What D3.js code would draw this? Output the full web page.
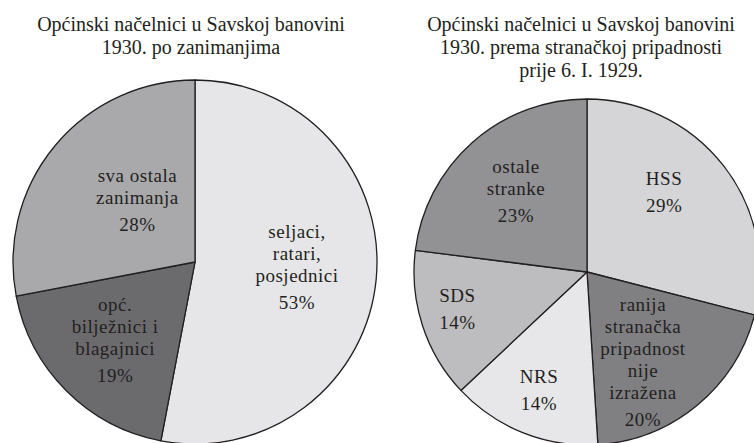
<!DOCTYPE html>
<html>
<head>
<meta charset="utf-8">
<script src="https://cdn.jsdelivr.net/npm/d3@7"></script>
<style>
  body { margin: 0; background: #fff; }
  svg { display: block; }
</style>
</head>
<body>
<svg id="chart" width="754" height="443"></svg>
<script>
// chart 1: by occupation
var occLabels = [["seljaci,", "ratari,", "posjednici"], ["opć.", "bilježnici i", "blagajnici"], ["sva ostala", "zanimanja"]];
var occValues = [53, 19, 28];
var occColors = ["#e6e6e8", "#6b6b6e", "#a9a9ab"];
var occTitle = ["Općinski načelnici u Savskoj banovini", "1930. po zanimanjima"];

// chart 2: by party before 6 Jan 1929
var partyLabels = [["HSS"], ["ranija", "stranačka", "pripadnost", "nije", "izražena"], ["NRS"], ["SDS"], ["ostale", "stranke"]];
var partyValues = [29, 20, 14, 14, 23];
var partyColors = ["#d5d5d7", "#808083", "#e7e7e9", "#bdbdbf", "#929295"];
var partyTitle = ["Općinski načelnici u Savskoj banovini", "1930. prema stranačkoj pripadnosti", "prije 6. I. 1929."];

var FONT = "Liberation Serif";
var svg = d3.select('#chart');

function drawPie(cfg) {
    var g = svg.append('g').attr('transform', 'translate(' + cfg.cx + ',' + cfg.cy + ')');

    var pie = d3.pie().sort(null).value(function (d) { return d; });
    var arcs = pie(cfg.values);
    var arc = d3.arc().innerRadius(0).outerRadius(cfg.r);

    g.selectAll('path').data(arcs).enter().append('path')
        .attr('d', arc)
        .attr('fill', function (d, i) { return cfg.colors[i]; })
        .attr('stroke', '#231f20')
        .attr('stroke-width', 1.3)
        .attr('stroke-linejoin', 'round');

    var lineH = 22, pctGap = 27;
    arcs.forEach(function (a, i) {
        // label sits along the slice's mid angle, nudged a little like the original
        var mid = (a.startAngle + a.endAngle) / 2 + cfg.labelDA[i] * Math.PI / 180;
        var c = d3.pointRadial(mid, cfg.r * cfg.labelK[i]);
        var lines = cfg.labels[i];
        var blockH = (lines.length - 1) * lineH + pctGap;
        var y0 = c[1] - blockH / 2;
        var t = g.append('text')
            .attr('text-anchor', 'middle')
            .attr('font-family', FONT)
            .attr('font-size', 19)
            .attr('letter-spacing', 0.5)
            .attr('fill', '#231f20');
        lines.forEach(function (s, j) {
            t.append('tspan').attr('x', c[0]).attr('y', y0 + j * lineH).text(s);
        });
        t.append('tspan').attr('x', c[0]).attr('y', y0 + (lines.length - 1) * lineH + pctGap)
            .text(cfg.values[i] + '%');
    });

    var title = svg.append('text')
        .attr('text-anchor', 'middle')
        .attr('font-family', FONT)
        .attr('font-size', 20)
        .attr('fill', '#231f20');
    cfg.title.forEach(function (s, j) {
        title.append('tspan').attr('x', cfg.tx).attr('y', 31 + j * 23).text(s);
    });
}

drawPie({
    cx: 195, cy: 262, r: 182, tx: 191,
    values: occValues, labels: occLabels, colors: occColors, title: occTitle,
    labelK: [0.564, 0.64, 0.44],
    labelDA: [1, -1.7, 4.4]
});

drawPie({
    cx: 587, cy: 272, r: 173, tx: 581,
    values: partyValues, labels: partyLabels, colors: partyColors, title: partyTitle,
    labelK: [0.616, 0.645, 0.771, 0.79, 0.595],
    labelDA: [-5.9, 9.5, -0.5, -0.6, -2.2]
});
</script>
</body>
</html>
